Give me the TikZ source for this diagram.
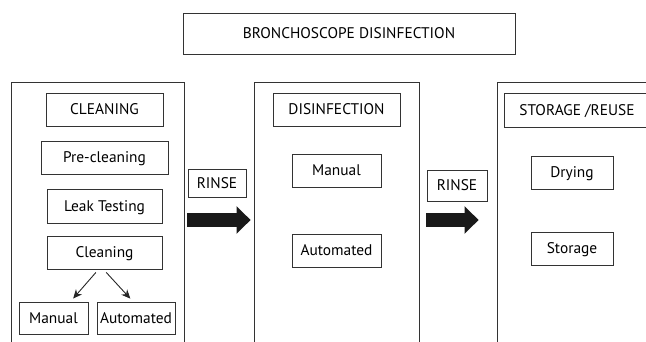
\documentclass[tikz,border=0pt]{standalone}
\usepackage{fontspec}
\setmainfont{PT Sans}
\usetikzlibrary{arrows.meta}

\tikzset{
  box/.style={draw=black!80, line width=0.9pt, inner sep=0pt,
    text height=10.8pt, text depth=0pt, font=\fontsize{15.4}{18}\selectfont},
  panel/.style={draw=black!80, line width=0.9pt, inner sep=0pt, minimum height=276},
  thinarrow/.style={draw=black!85, line width=0.9pt, -{Stealth[length=9pt,width=8pt]},
    shorten <=4pt, shorten >=4pt},
  bigarrow/.style={draw=black!90, line width=14pt, -{Triangle[length=14pt,width=27pt]}},
}

\begin{document}
\begin{tikzpicture}[x=1pt,y=-1pt]
    \clip (0,0) rectangle (646,342);

    % Title
    \node[box, minimum width=332, minimum height=41] (title) at (349,33.5) {BRONCHOSCOPE DISINFECTION};

    % The three stages (open at the bottom)
    \node[panel, minimum width=173] (cleanpanel) at (97.5,220) {};
    \node[panel, minimum width=165] (disinpanel) at (336.5,220) {};
    \node[panel, minimum width=203] (storepanel) at (598.5,220) {};

    % Cleaning
    \node[box, minimum width=117, minimum height=33] (cleanhead) at (104.5,109.5) {CLEANING};
    \node[box, minimum width=127, minimum height=33] (precl) at (104.5,157.5) {Pre-cleaning};
    \node[box, minimum width=115, minimum height=34] (leak) at (104.5,206) {Leak Testing};
    \node[box, minimum width=115, minimum height=33] (cleaning) at (104.5,252.5) {Cleaning};
    \node[box, minimum width=69, minimum height=32] (manual) at (53.5,318) {Manual};
    \node[box, minimum width=78, minimum height=32] (auto) at (136,318) {Automated};
    \draw[thinarrow] ([xshift=-6pt]cleaning.south) -- ([xshift=17pt]manual.north);
    \draw[thinarrow] ([xshift=-1pt]cleaning.south) -- ([xshift=-3pt]auto.north);

    % Disinfection
    \node[box, minimum width=127, minimum height=33] (disinhead) at (336.5,109.5) {DISINFECTION};
    \node[box, minimum width=89, minimum height=33] (dmanual) at (336.5,170.5) {Manual};
    \node[box, minimum width=89, minimum height=33] (dauto) at (336.5,250.5) {Automated};

    % Storage / reuse
    \node[box, minimum width=146, minimum height=34] (storehead) at (577,110) {STORAGE /REUSE};
    \node[box, minimum width=82, minimum height=33] (drying) at (572,172.5) {Drying};
    \node[box, minimum width=82, minimum height=33] (storage) at (572,248.5) {Storage};

    % Rinse steps
    \node[box, minimum width=58, minimum height=28] (rinsea) at (217,183) {RINSE};
    \node[box, minimum width=60, minimum height=31] (rinseb) at (457,185.5) {RINSE};
    \draw[bigarrow, shorten <=3pt, shorten >=3pt] (cleanpanel.east) -- (disinpanel.west);
    \draw[bigarrow, shorten <=7pt, shorten >=18pt] (disinpanel.east) -- (storepanel.west);

\end{tikzpicture}
\end{document}
